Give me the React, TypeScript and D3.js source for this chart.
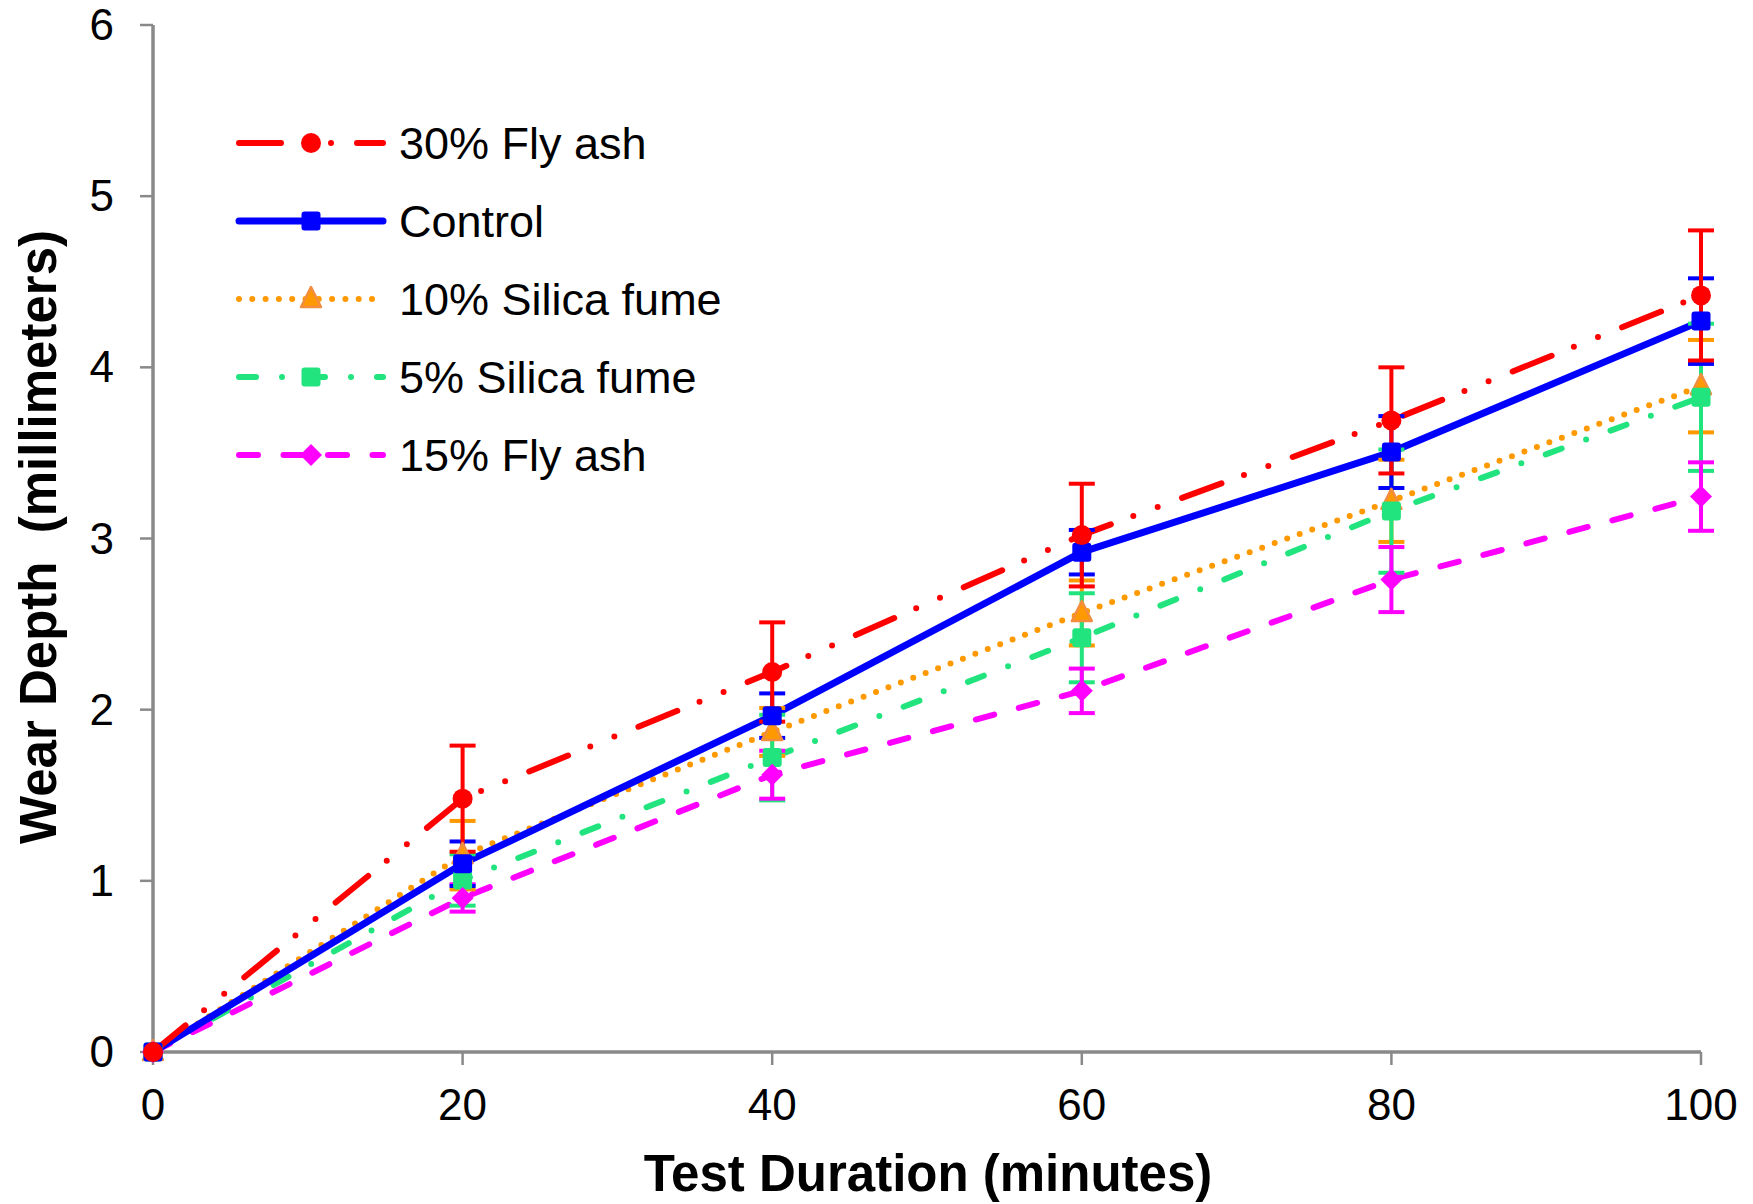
import React from "react";
import { scaleLinear, line } from "d3";

const minutes = [0, 20, 40, 60, 80, 100];
const yTicks = [0, 1, 2, 3, 4, 5, 6];

const flyAsh30 = [0, 1.48, 2.22, 3.02, 3.69, 4.42];
const flyAsh30Err = [0, 0.31, 0.29, 0.3, 0.31, 0.38];
const control = [0, 1.1, 1.965, 2.92, 3.505, 4.27];
const controlErr = [0, 0.13, 0.13, 0.13, 0.21, 0.25];
const silica10 = [0, 1.15, 1.87, 2.565, 3.22, 3.89];
const silica10Err = [0, 0.2, 0.14, 0.19, 0.24, 0.27];
const silica5 = [0, 1.005, 1.72, 2.42, 3.16, 3.825];
const silica5Err = [0, 0.15, 0.25, 0.26, 0.36, 0.43];
const flyAsh15 = [0, 0.9, 1.62, 2.11, 2.76, 3.245];
const flyAsh15Err = [0, 0.08, 0.14, 0.13, 0.19, 0.2];

const series = [
  { name: "30% Fly ash", values: flyAsh30, err: flyAsh30Err, color: "#ff0000", width: 6, dash: "42,24,0,26,0,26", marker: "circle" },
  { name: "Control", values: control, err: controlErr, color: "#0000ff", width: 7, dash: "", marker: "square" },
  { name: "10% Silica fume", values: silica10, err: silica10Err, color: "#ff9900", width: 6, dash: "0,13.3", marker: "triangle" },
  { name: "5% Silica fume", values: silica5, err: silica5Err, color: "#22e47e", width: 6, dash: "17,26,0,26", marker: "square2" },
  { name: "15% Fly ash", values: flyAsh15, err: flyAsh15Err, color: "#ff00ff", width: 6, dash: "19,25.5", marker: "diamond" },
];

// back-to-front drawing order
const drawOrder = [2, 3, 4, 1, 0];

const FONT = "'Liberation Sans', Arial, Helvetica, sans-serif";

const x = scaleLinear().domain([0, 100]).range([153, 1701]);
const y = scaleLinear().domain([0, 6]).range([1052, 25]);

function Marker({ kind, cx, cy, color }: { kind: string; cx: number; cy: number; color: string }) {
  if (kind === "circle") return <circle cx={cx} cy={cy} r={10} fill={color} />;
  if (kind === "square" || kind === "square2")
    return <rect x={cx - 9.5} y={cy - 9.5} width={19} height={19} rx={3} fill={color} />;
  if (kind === "triangle")
    return (
      <polygon
        points={`${cx},${cy - 12} ${cx + 10},${cy + 8} ${cx - 10},${cy + 8}`}
        fill="#ff9900"
        stroke="#f28d40"
        strokeWidth={2.5}
        strokeLinejoin="round"
      />
    );
  return (
    <polygon
      points={`${cx},${cy - 11} ${cx + 11},${cy} ${cx},${cy + 11} ${cx - 11},${cy}`}
      fill={color}
      strokeLinejoin="round"
    />
  );
}

export default function App() {
  const lineGen = line<number>()
    .x((_, i) => x(minutes[i]))
    .y((d) => y(d));

  return (
    <svg width={1753} height={1204} style={{ position: "absolute", left: 0, top: 0 }} fontFamily={FONT}>
      <rect width={1753} height={1204} fill="#fff" />

      {/* axes */}
      <line x1={x(0)} x2={x(0)} y1={y(6)} y2={y(0)} stroke="#898989" strokeWidth={3.5} />
      <line x1={x(0)} x2={x(100)} y1={y(0)} y2={y(0)} stroke="#898989" strokeWidth={3.5} />
      {yTicks.map((t) => (
        <g key={"y" + t}>
          <line x1={x(0) - 13} x2={x(0)} y1={y(t)} y2={y(t)} stroke="#898989" strokeWidth={2.5} />
          <text x={114} y={y(t) + 15} textAnchor="end" fontSize={44}>
            {t}
          </text>
        </g>
      ))}
      {minutes.map((m) => (
        <g key={"x" + m}>
          <line x1={x(m)} x2={x(m)} y1={y(0)} y2={y(0) + 13} stroke="#898989" strokeWidth={2.5} />
          <text x={x(m)} y={1120} textAnchor="middle" fontSize={44}>
            {m}
          </text>
        </g>
      ))}

      {/* axis titles */}
      <text x={928} y={1191} textAnchor="middle" fontSize={51} fontWeight="bold">
        Test Duration (minutes)
      </text>
      <text
        transform={`translate(56, 537) rotate(-90)`}
        textAnchor="middle"
        fontSize={51}
        fontWeight="bold"
        style={{ whiteSpace: "pre" }}
      >
        {"Wear Depth  (millimeters)"}
      </text>

      {/* lines */}
      {drawOrder.map((si) => {
        const s = series[si];
        return (
          <path
            key={"l" + si}
            d={lineGen(s.values) || ""}
            fill="none"
            stroke={s.color}
            strokeWidth={s.width}
            strokeDasharray={s.dash || undefined}
            strokeLinecap="round"
            strokeLinejoin="round"
          />
        );
      })}

      {/* error bars */}
      {drawOrder.map((si) => {
        const s = series[si];
        return (
          <g key={"e" + si} stroke={s.color} strokeWidth={4}>
            {s.values.map((v, i) =>
              s.err[i] > 0 ? (
                <g key={i}>
                  <line x1={x(minutes[i])} x2={x(minutes[i])} y1={y(v + s.err[i])} y2={y(v - s.err[i])} />
                  <line x1={x(minutes[i]) - 13} x2={x(minutes[i]) + 13} y1={y(v + s.err[i])} y2={y(v + s.err[i])} />
                  <line x1={x(minutes[i]) - 13} x2={x(minutes[i]) + 13} y1={y(v - s.err[i])} y2={y(v - s.err[i])} />
                </g>
              ) : null
            )}
          </g>
        );
      })}

      {/* markers */}
      {drawOrder.map((si) => {
        const s = series[si];
        return (
          <g key={"m" + si}>
            {s.values.map((v, i) => (
              <Marker key={i} kind={s.marker} cx={x(minutes[i])} cy={y(v)} color={s.color} />
            ))}
          </g>
        );
      })}

      {/* legend */}
      {series.map((s, i) => {
        const cy = 143 + i * 78;
        return (
          <g key={"lg" + i}>
            <line
              x1={239}
              x2={383}
              y1={cy}
              y2={cy}
              stroke={s.color}
              strokeWidth={s.width}
              strokeDasharray={s.dash || undefined}
              strokeLinecap="round"
            />
            <Marker kind={s.marker} cx={311} cy={cy} color={s.color} />
            <text x={399} y={cy + 16} fontSize={45}>
              {s.name}
            </text>
          </g>
        );
      })}
    </svg>
  );
}
